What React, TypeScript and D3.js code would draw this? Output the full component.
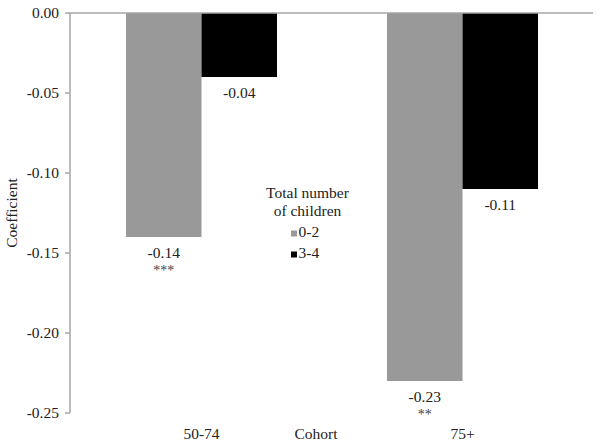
import React from "react";
import * as d3 from "d3";

const cohorts = ["50-74", "75+"];
const groups = ["0-2", "3-4"];
const values = [
  [-0.14, -0.04],
  [-0.23, -0.11],
];
const stars = [
  ["***", ""],
  ["**", ""],
];
const yTicks = [0, -0.05, -0.1, -0.15, -0.2, -0.25];
const colors = ["#999999", "#000000"];

export default function App() {
  const W = 600, H = 446;
  const y = d3.scaleLinear().domain([0, -0.25]).range([13, 413]);
  const x0 = d3.scaleBand().domain(cohorts).range([71, 593]).paddingInner(0).paddingOuter(0);
  const groupW = 151;
  const x1 = d3.scaleBand().domain(groups).range([0, groupW]).padding(0);
  const font = "'Liberation Serif', 'Times New Roman', Times, 'DejaVu Serif', serif";
  const axisColor = "#a6a6a6";
  const fs = 15.5;
  const txt = "#222";
  return (
    <svg width={W} height={H} style={{ position: "absolute", left: 0, top: 0, fontFamily: font }}>
      <rect width={W} height={H} fill="#fff" />
      {cohorts.map((c, i) =>
        groups.map((g, j) => {
          const v = values[i][j];
          const bx = (x0(c) as number) + (x0.bandwidth() - groupW) / 2 + (x1(g) as number);
          const by = y(0);
          const bh = y(v) - y(0);
          const cx = bx + x1.bandwidth() / 2;
          return (
            <g key={c + g}>
              <rect x={bx} y={by} width={x1.bandwidth()} height={bh} fill={colors[j]} />
              <text x={cx} y={y(v) + 21} textAnchor="middle" fontSize={fs} fill={txt}>
                {v.toFixed(2)}
              </text>
              {stars[i][j] && (
                <text x={cx} y={y(v) + 38} textAnchor="middle" fontSize={14} fill="#444">
                  {stars[i][j]}
                </text>
              )}
            </g>
          );
        })
      )}
      <line x1={70} x2={593} y1={y(0)} y2={y(0)} stroke={axisColor} strokeWidth={1.5} />
      <line x1={70} x2={70} y1={y(0)} y2={y(-0.25)} stroke={axisColor} strokeWidth={1.5} />
      {yTicks.map((t) => (
        <g key={t}>
          <line x1={65} x2={70} y1={y(t)} y2={y(t)} stroke={axisColor} strokeWidth={1.5} />
          <text x={59} y={y(t) + 5} textAnchor="end" fontSize={fs} fill={txt}>
            {t.toFixed(2)}
          </text>
        </g>
      ))}
      <text transform={`translate(17,${(y(0) + y(-0.25)) / 2}) rotate(-90)`} textAnchor="middle" fontSize={fs} fill={txt}>
        Coefficient
      </text>
      {cohorts.map((c) => (
        <text key={c} x={(x0(c) as number) + x0.bandwidth() / 2} y={439} textAnchor="middle" fontSize={fs} fill={txt}>
          {c}
        </text>
      ))}
      <text x={316} y={439} textAnchor="middle" fontSize={fs} fill={txt}>Cohort</text>
      <g>
        <text x={307.5} y={198} textAnchor="middle" fontSize={fs} fill={txt}>Total number</text>
        <text x={307.5} y={216} textAnchor="middle" fontSize={fs} fill={txt}>of children</text>
        {groups.map((g, j) => (
          <g key={g}>
            <rect x={291} y={230.5 + j * 21} width={6} height={6} fill={colors[j]} />
            <text x={298.5} y={237 + j * 21} fontSize={fs} fill={txt}>{g}</text>
          </g>
        ))}
      </g>
    </svg>
  );
}
